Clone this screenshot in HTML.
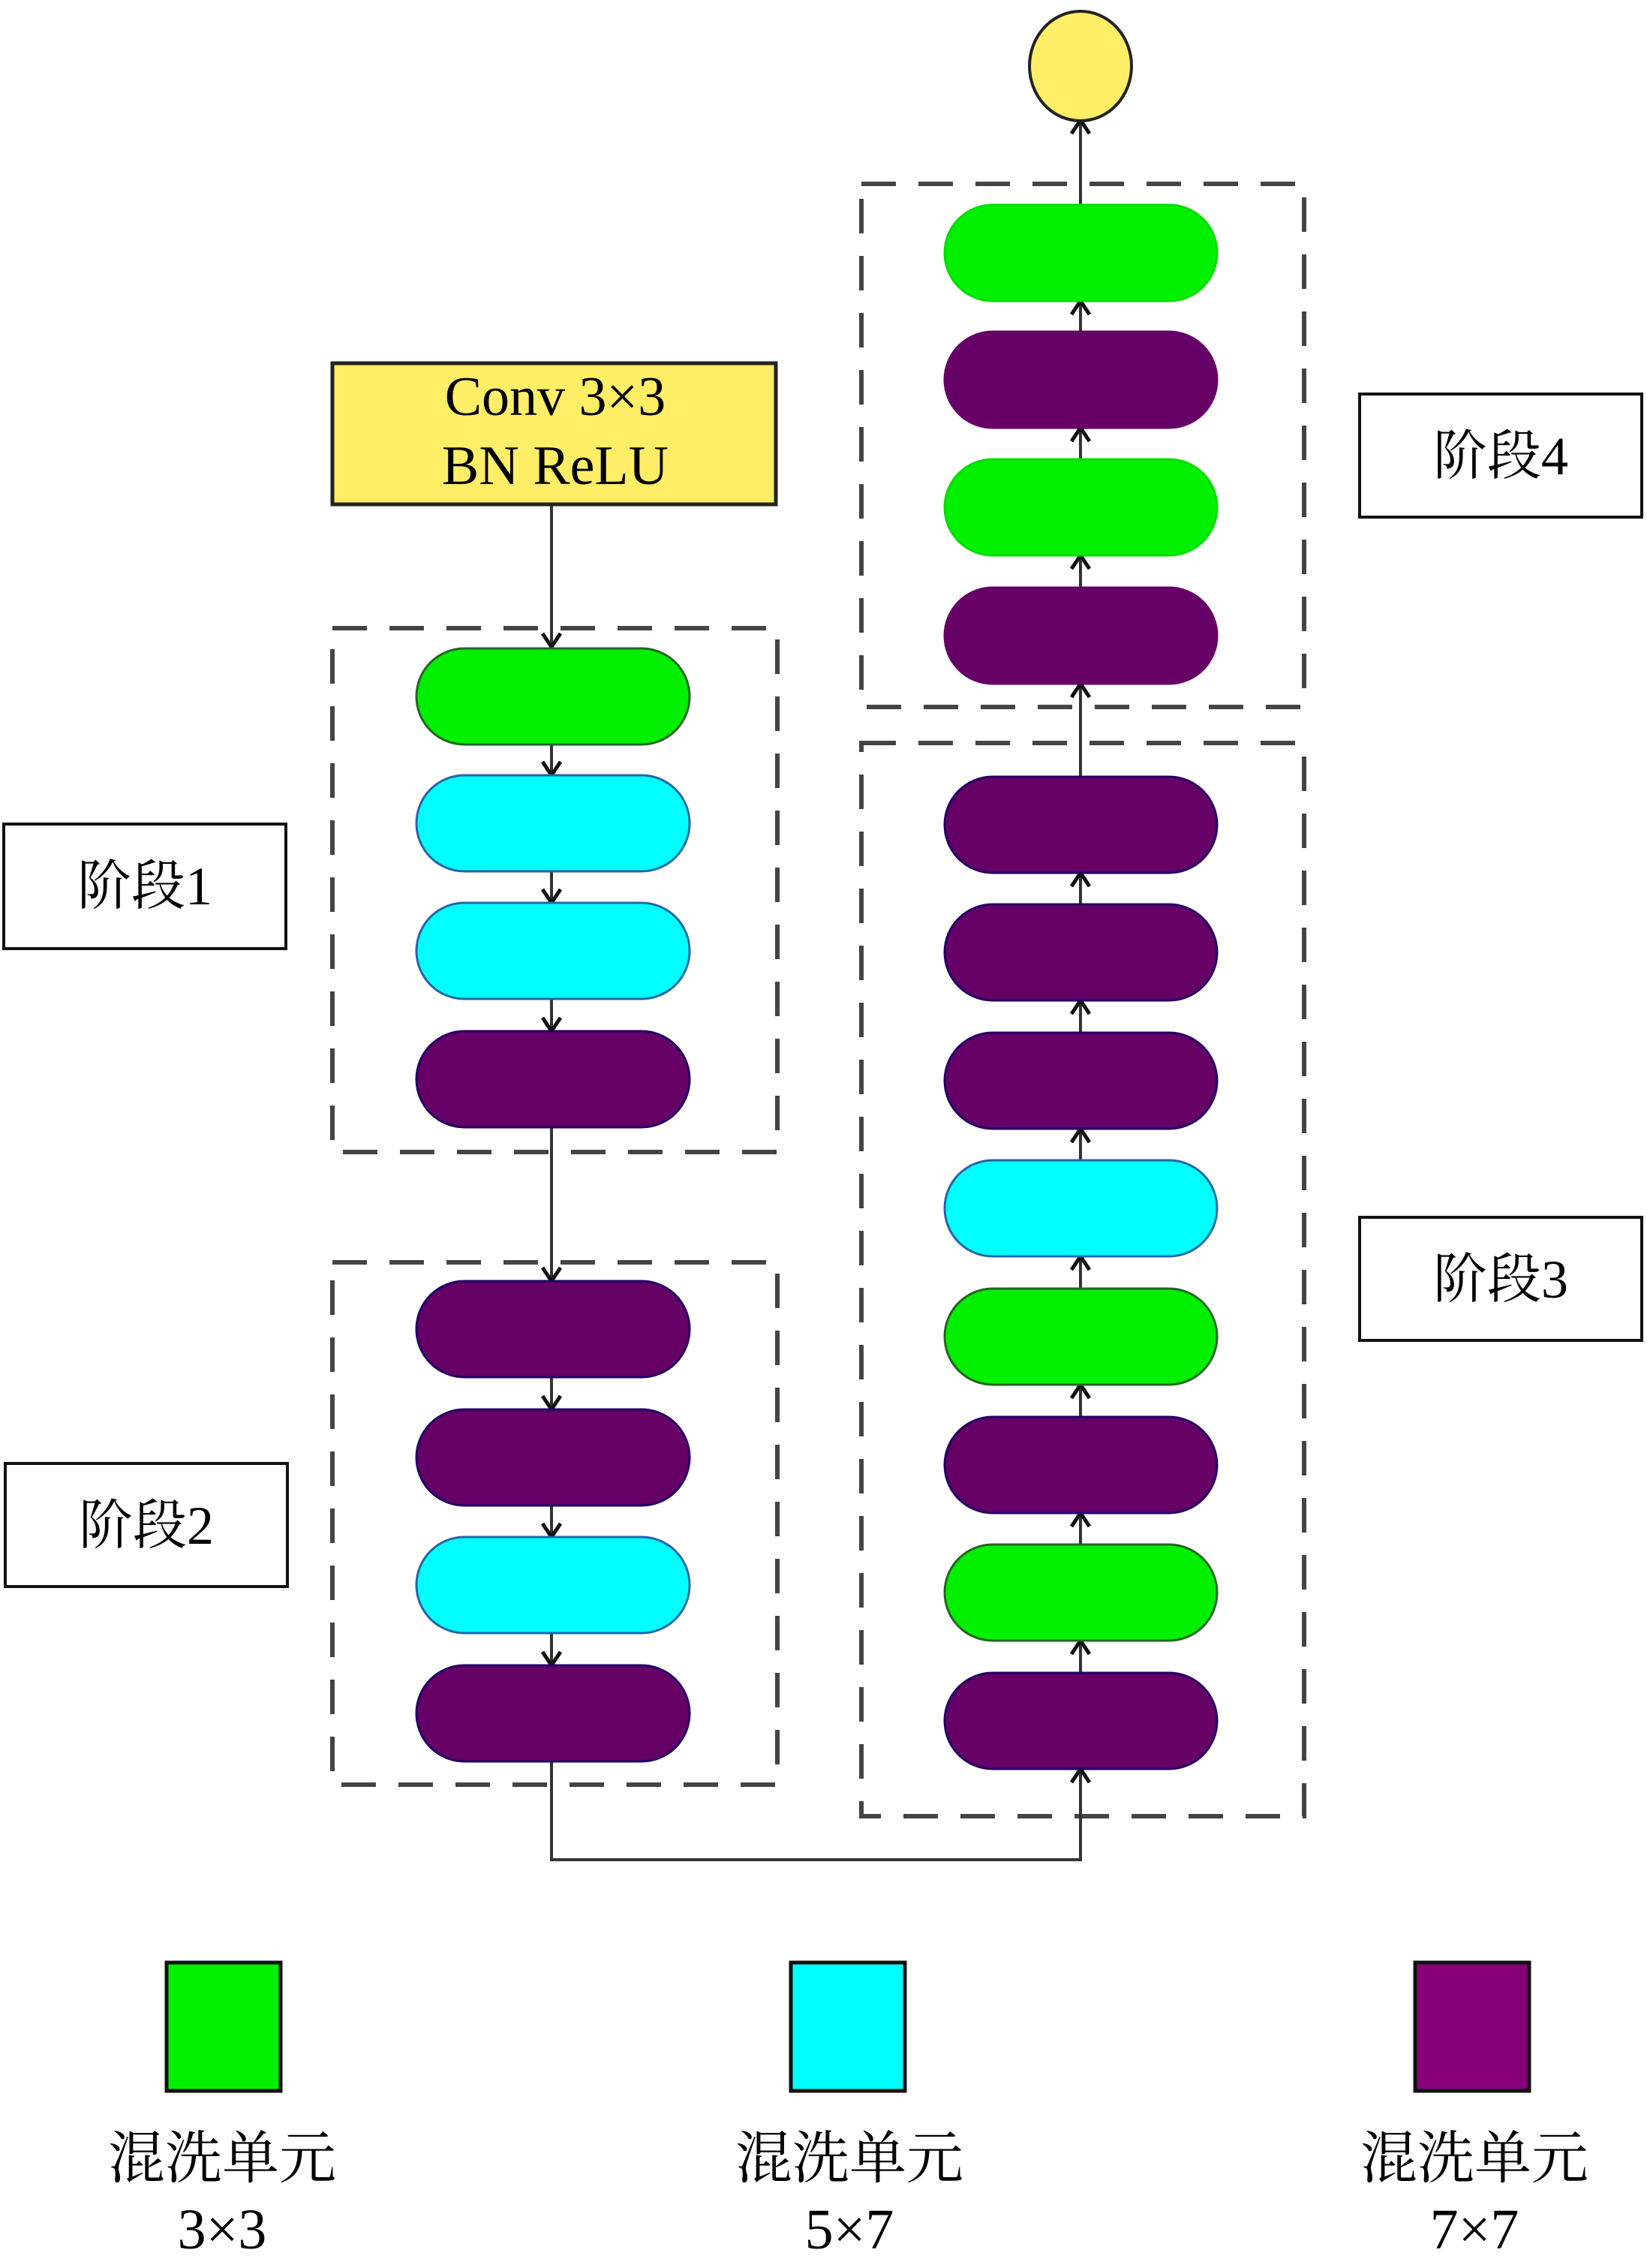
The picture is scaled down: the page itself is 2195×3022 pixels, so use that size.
<!DOCTYPE html>
<html><head><meta charset="utf-8"><style>
html,body{margin:0;padding:0;background:#fff;}
svg{display:block;}
text{font-family:"Liberation Serif","Noto Serif CJK SC",serif;fill:#000;}
</style></head><body>
<svg width="2195" height="3022" viewBox="0 0 2195 3022" xmlns="http://www.w3.org/2000/svg">
<defs>
<marker id="ah" viewBox="0 0 30 30" refX="28" refY="15" markerWidth="30" markerHeight="30" markerUnits="userSpaceOnUse" orient="auto">
<path d="M10,3 L28,15 L10,27" fill="none" stroke="#111" stroke-width="5"/>
</marker>
</defs>

<g fill="none" stroke="#444" stroke-width="6" stroke-dasharray="46,30">
<rect x="443" y="837" width="593" height="698"/>
<rect x="443" y="1682" width="593" height="696"/>
<rect x="1148" y="245" width="590" height="697"/>
<rect x="1148" y="990" width="590" height="1430"/>
</g>

<g stroke="#333" stroke-width="4" fill="none">
<line x1="735" y1="672" x2="735" y2="862" marker-end="url(#ah)"/>
<line x1="735" y1="992" x2="735" y2="1033" marker-end="url(#ah)"/>
<line x1="735" y1="1161" x2="735" y2="1203" marker-end="url(#ah)"/>
<line x1="735" y1="1331" x2="735" y2="1374" marker-end="url(#ah)"/>
<line x1="735" y1="1502" x2="735" y2="1707" marker-end="url(#ah)"/>
<line x1="735" y1="1835" x2="735" y2="1878" marker-end="url(#ah)"/>
<line x1="735" y1="2006" x2="735" y2="2048" marker-end="url(#ah)"/>
<line x1="735" y1="2176" x2="735" y2="2219" marker-end="url(#ah)"/>
<polyline points="735,2347 735,2478 1440,2478 1440,2357" marker-end="url(#ah)"/>
<line x1="1440" y1="2229" x2="1440" y2="2186" marker-end="url(#ah)"/>
<line x1="1440" y1="2058" x2="1440" y2="2016" marker-end="url(#ah)"/>
<line x1="1440" y1="1888" x2="1440" y2="1845" marker-end="url(#ah)"/>
<line x1="1440" y1="1717" x2="1440" y2="1674" marker-end="url(#ah)"/>
<line x1="1440" y1="1546" x2="1440" y2="1504" marker-end="url(#ah)"/>
<line x1="1440" y1="1376" x2="1440" y2="1333" marker-end="url(#ah)"/>
<line x1="1440" y1="1205" x2="1440" y2="1163" marker-end="url(#ah)"/>
<line x1="1440" y1="1035" x2="1440" y2="911" marker-end="url(#ah)"/>
<line x1="1440" y1="783" x2="1440" y2="740" marker-end="url(#ah)"/>
<line x1="1440" y1="612" x2="1440" y2="570" marker-end="url(#ah)"/>
<line x1="1440" y1="442" x2="1440" y2="401" marker-end="url(#ah)"/>
<line x1="1440" y1="273" x2="1440" y2="160" marker-end="url(#ah)"/>
</g>

<rect x="443" y="484" width="591" height="188" fill="#ffee66" stroke="#222" stroke-width="5"/>
<text x="740" y="553" font-size="74" text-anchor="middle">Conv 3×3</text>
<text x="740" y="645" font-size="74" text-anchor="middle">BN ReLU</text>

<ellipse cx="1440" cy="88" rx="68" ry="73" fill="#ffee66" stroke="#222" stroke-width="4"/>

<g stroke-width="3">
<rect x="555" y="864" width="364" height="128" rx="64" fill="#00f000" stroke="#226622"/>
<rect x="555" y="1033" width="364" height="128" rx="64" fill="#00ffff" stroke="#2266aa"/>
<rect x="555" y="1203" width="364" height="128" rx="64" fill="#00ffff" stroke="#2266aa"/>
<rect x="555" y="1374" width="364" height="128" rx="64" fill="#660066" stroke="#220066"/>
<rect x="555" y="1707" width="364" height="128" rx="64" fill="#660066" stroke="#220066"/>
<rect x="555" y="1878" width="364" height="128" rx="64" fill="#660066" stroke="#220066"/>
<rect x="555" y="2048" width="364" height="128" rx="64" fill="#00ffff" stroke="#2266aa"/>
<rect x="555" y="2219" width="364" height="128" rx="64" fill="#660066" stroke="#220066"/>
</g>

<g stroke-width="3">
<rect x="1259" y="273" width="363" height="128" rx="64" fill="#00f000" stroke="#00dd00"/>
<rect x="1259" y="442" width="363" height="128" rx="64" fill="#660066" stroke="#660066"/>
<rect x="1259" y="612" width="363" height="128" rx="64" fill="#00f000" stroke="#00dd00"/>
<rect x="1259" y="783" width="363" height="128" rx="64" fill="#660066" stroke="#660066"/>
<rect x="1259" y="1035" width="363" height="128" rx="64" fill="#660066" stroke="#220066"/>
<rect x="1259" y="1205" width="363" height="128" rx="64" fill="#660066" stroke="#220066"/>
<rect x="1259" y="1376" width="363" height="128" rx="64" fill="#660066" stroke="#220066"/>
<rect x="1259" y="1546" width="363" height="128" rx="64" fill="#00ffff" stroke="#2266aa"/>
<rect x="1259" y="1717" width="363" height="128" rx="64" fill="#00f000" stroke="#226622"/>
<rect x="1259" y="1888" width="363" height="128" rx="64" fill="#660066" stroke="#220066"/>
<rect x="1259" y="2058" width="363" height="128" rx="64" fill="#00f000" stroke="#226622"/>
<rect x="1259" y="2229" width="363" height="128" rx="64" fill="#660066" stroke="#220066"/>
</g>

<g fill="#fff" stroke="#111" stroke-width="4">
<rect x="5" y="1098" width="376" height="166"/>
<rect x="7" y="1950" width="376" height="164"/>
<rect x="1812" y="525" width="376" height="164"/>
<rect x="1812" y="1622" width="376" height="164"/>
</g>
<g font-size="72" text-anchor="middle">
<text x="193" y="1205">阶段1</text>
<text x="195" y="2057">阶段2</text>
<text x="2000" y="632">阶段4</text>
<text x="2000" y="1729">阶段3</text>
</g>

<g stroke="#111" stroke-width="5">
<rect x="222" y="2615" width="152" height="171" fill="#00f000"/>
<rect x="1054" y="2615" width="152" height="171" fill="#00ffff"/>
<rect x="1886" y="2615" width="152" height="171" fill="#880077"/>
</g>
<g font-size="76" text-anchor="middle">
<text x="296" y="2902">混洗单元</text>
<text x="1132" y="2902">混洗单元</text>
<text x="1965" y="2902">混洗单元</text>
<text x="296" y="2996">3×3</text>
<text x="1132" y="2996">5×7</text>
<text x="1965" y="2996">7×7</text>
</g>
</svg>
</body></html>
